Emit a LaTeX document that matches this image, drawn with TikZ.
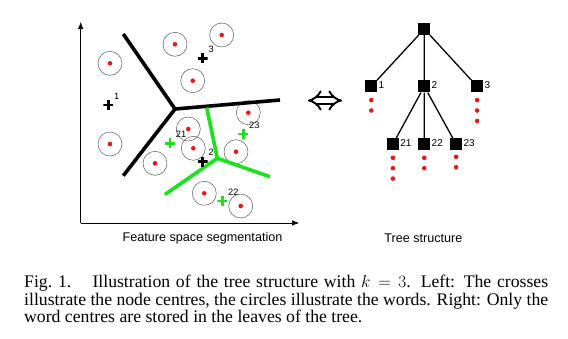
\documentclass[tikz,border=0pt]{standalone}
\usepackage{fontspec}
\setmainfont{Liberation Serif}
\setsansfont{Liberation Sans}
\usetikzlibrary{arrows.meta,positioning}

\definecolor{cellgreen}{RGB}{25,228,25}
\definecolor{wordred}{RGB}{236,22,22}

\tikzset{
  word/.style={circle, draw=black!65, line width=0.5pt,
    minimum size=24pt, inner sep=0pt,
    path picture={\fill[wordred] (path picture bounding box.center) circle (2.3pt);}},
  centre/.style={minimum size=10pt, inner sep=0pt,
    path picture={\draw[line width=2.6pt, #1]
      (path picture bounding box.north) -- (path picture bounding box.south)
      (path picture bounding box.west) -- (path picture bounding box.east);}},
  centre/.default=black,
  cnum/.style={font=\sffamily\fontsize{9.3}{9.3}\selectfont, inner sep=0.5pt},
  vq/.style={rectangle, fill=black, minimum size=12pt, inner sep=0pt},
  tnum/.style={font=\sffamily\fontsize{10}{10}\selectfont, inner sep=1pt, yshift=1pt},
  leaf/.style={circle, fill=wordred, minimum size=4.6pt, inner sep=0pt},
  cut/.style={line width=3.6pt},
}

\begin{document}
\begin{tikzpicture}[x=1pt, y=-1pt, font=\sffamily]
  \useasboundingbox (0,0) rectangle (568,338);

  % Axes of the feature space
  \coordinate (org) at (80.7,223);
  \coordinate (ytop) at (80.7,22);
  \coordinate (xend) at (299,223);
  \draw[line width=0.6pt, -{Latex[length=7pt,width=5.5pt]}] (org) -- (ytop);
  \draw[line width=0.6pt, -{Latex[length=7pt,width=5.5pt]}] (org) -- (xend);

  % Add the words
  \node[word] (c1) at (221.7,35) {};
  \node[word] (c2) at (175,44.3) {};
  \node[word] (c3) at (110,63.3) {};
  \node[word] (c4) at (192.7,80.7) {};
  \node[word] (c5) at (248.3,112.7) {};
  \node[word] (c6) at (188.3,129) {};
  \node[word] (c7) at (110,144) {};
  \node[word] (c8) at (193.3,148.3) {};
  \node[word] (c9) at (236,151.7) {};
  \node[word] (c10) at (155,163.3) {};
  \node[word] (c11) at (204.3,193.3) {};
  \node[word] (c12) at (240.7,206) {};

  % Borders of the first level cells
  \coordinate (o) at (175,109);
  \coordinate (o1) at (123.3,34);
  \coordinate (o2) at (123.3,175.7);
  \coordinate (o3) at (280,100);
  \draw[cut] (o1) -- (o) -- (o2);
  \draw[cut] (o) -- (o3);

  % Borders of the cells below node 2
  \coordinate (g) at (217.3,158.3);
  \coordinate (g1) at (206.7,107.5);
  \coordinate (g2) at (165,194.5);
  \coordinate (g3) at (270,176.7);
  \draw[cut, cellgreen] (g1) -- (g) -- (g2);
  \draw[cut, cellgreen] (g) -- (g3);

  % Add the node centres
  \node[centre, label={[cnum]north east:1}] (k1) at (108.3,105) {};
  \node[centre, label={[cnum]north east:2}] (k2) at (202.7,161.7) {};
  \node[centre, label={[cnum]north east:3}] (k3) at (202.7,58.3) {};
  \node[centre=cellgreen, label={[cnum]north east:21}] (k21) at (170,143.3) {};
  \node[centre=cellgreen, label={[cnum]north east:22}] (k22) at (222.3,201) {};
  \node[centre=cellgreen, label={[cnum]north east:23}] (k23) at (243.3,134) {};

  \node[font=\sffamily\fontsize{12.6}{12.6}\selectfont] (left) at (202.5,238)
    {Feature space segmentation};

  % Equivalence arrow
  \coordinate (dl) at (308,100.5);
  \coordinate (dr) at (342,100.5);
  \draw[double, double distance=5pt, line width=1.9pt, {Implies}-{Implies}] (dl) -- (dr);

  % Add the tree nodes
  \node[vq] (r) at (424.3,29) {};
  \node[vq,
    below=45pt of r,
    label={[tnum]east:2}] (n2) {};
  \node[vq,
    left=40.6pt of n2,
    label={[tnum]east:1}] (n1) {};
  \node[vq,
    right=40.4pt of n2,
    label={[tnum]east:3}] (n3) {};
  \node[vq,
    below=45.3pt of n2,
    label={[tnum]east:22}] (n22) {};
  \node[vq,
    left=19pt of n22,
    label={[tnum]east:21}] (n21) {};
  \node[vq,
    right=19.4pt of n22,
    label={[tnum]east:23}] (n23) {};

  % Connect the tree nodes
  \draw[line width=1.3pt]
    (r) -- (n1)
    (r) -- (n2)
    (r) -- (n3)
    (n2) -- (n21)
    (n2) -- (n22)
    (n2) -- (n23);

  % Words stored in the leaves
  \node[leaf, below=5pt of n1] (d1a) {};
  \node[leaf, below=5.4pt of d1a] (d1b) {};
  \node[leaf, below=5pt of n3] (d3a) {};
  \node[leaf, below=5.4pt of d3a] (d3b) {};
  \node[leaf, below=5.4pt of d3b] (d3c) {};
  \node[leaf, below=5pt of n21] (d21a) {};
  \node[leaf, below=5.4pt of d21a] (d21b) {};
  \node[leaf, below=5.4pt of d21b] (d21c) {};
  \node[leaf, below=5pt of n22] (d22a) {};
  \node[leaf, below=5.4pt of d22a] (d22b) {};
  \node[leaf, below=4pt of n23] (d23a) {};
  \node[leaf, below=5.4pt of d23a] (d23b) {};

  \node[font=\sffamily\fontsize{12.6}{12.6}\selectfont] (right) at (423.3,238)
    {Tree structure};

  % Caption
  \node[anchor=north west, text width=524pt, align=justify, inner sep=0pt,
    font=\rmfamily\fontsize{17.7}{17.2}\selectfont] (cap) at (24,275.3)
    {\noindent Fig.~1.\hspace{1.2em}Illustration of the tree structure with $k=3$. Left: The crosses\linebreak
     illustrate the node centres, the circles illustrate the words. Right: Only the\linebreak
     word centres are stored in the leaves of the tree.};
\end{tikzpicture}
\end{document}
